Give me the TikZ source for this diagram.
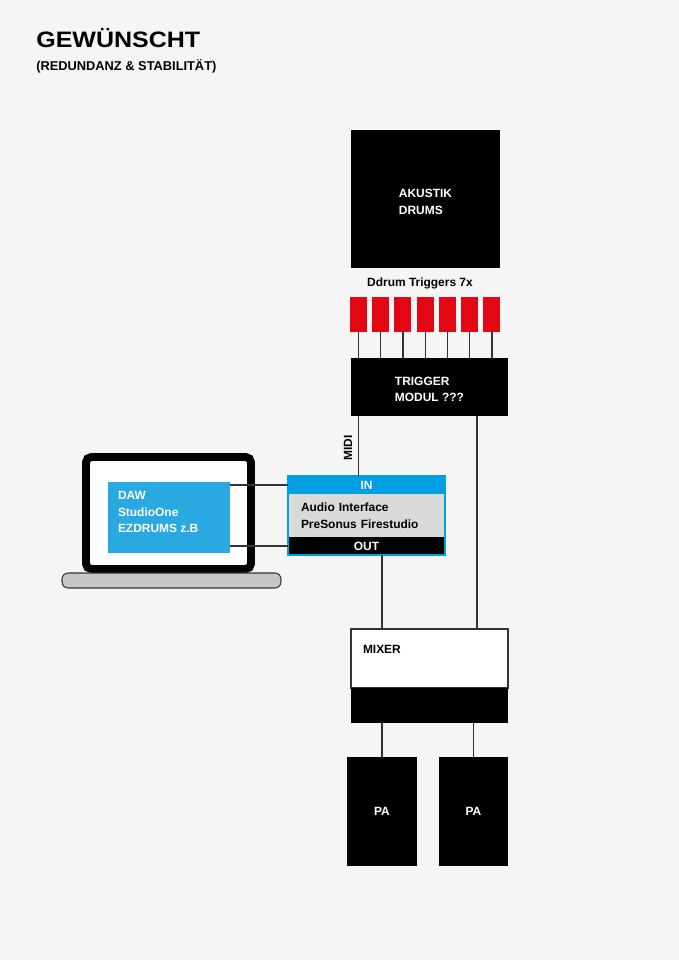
\documentclass[tikz,border=0pt]{standalone}
\usepackage{fontspec}
\setmainfont{Liberation Sans}
\newfontfamily\titlefont{Liberation Sans}[FakeStretch=1.12]
\usetikzlibrary{calc,positioning}
\definecolor{paper}{HTML}{F5F5F5}
\definecolor{trigred}{HTML}{E30613}
\definecolor{ifblue}{HTML}{009FE3}
\definecolor{dawblue}{HTML}{2AA8E0}
\definecolor{bodygrey}{HTML}{DADADA}
\definecolor{basegrey}{HTML}{C6C6C6}
\definecolor{wiregrey}{HTML}{333333}

\begin{document}
\begin{tikzpicture}[x=0.02cm, y=-0.02cm, node distance=0pt]
	\tikzstyle{box}=[inner sep=0pt, outer sep=0pt, font=\bfseries\fontsize{6.8}{9.6}\selectfont]
	\tikzstyle{blackbox}=[box, fill=black, text=white]
	\tikzstyle{trigger}=[box, fill=trigred, minimum width=0.34cm, minimum height=0.7cm]
	\tikzstyle{wire}=[draw=wiregrey, line width=0.6pt]

	\fill[paper] (0,0) rectangle (679,960);
	\useasboundingbox (0,0) rectangle (679,960);

	\node (title) [anchor=base west, inner sep=0pt, font=\titlefont\bfseries\fontsize{12.7}{14}\selectfont] at (36,48) {GEWÜNSCHT};
	\node (sub) [anchor=base west, inner sep=0pt, font=\bfseries\fontsize{7.3}{8}\selectfont] at (36,70) {(REDUNDANZ \& STABILITÄT)};

	\node (drums) [blackbox, minimum width=2.98cm, minimum height=2.76cm, align=left, text height=0.62cm] at (425.5,199) {AKUSTIK\\DRUMS};
	\node (ddrum) [box] at (420,283) {Ddrum Triggers 7x};

	\node (t1) [trigger] at (358.5,314.5) {};
	\node (t2) [trigger, right=0.105cm of t1] {};
	\node (t3) [trigger, right=0.105cm of t2] {};
	\node (t4) [trigger, right=0.105cm of t3] {};
	\node (t5) [trigger, right=0.105cm of t4] {};
	\node (t6) [trigger, right=0.105cm of t5] {};
	\node (t7) [trigger, right=0.105cm of t6] {};

	\node (tm) [blackbox, minimum width=3.14cm, minimum height=1.16cm, align=left, text height=0.6cm] at (429.5,387) {TRIGGER\\MODUL ???};

	\draw[wire] (t1.south) -- (t1 |- tm.north);
	\draw[wire] (t2.south) -- (t2 |- tm.north);
	\draw[wire] (t3.south) -- (t3 |- tm.north);
	\draw[wire] (t4.south) -- (t4 |- tm.north);
	\draw[wire] (t5.south) -- (t5 |- tm.north);
	\draw[wire] (t6.south) -- (t6 |- tm.north);
	\draw[wire] (t7.south) -- (t7 |- tm.north);

	% audio interface
	\node (in) [blackbox, fill=ifblue, minimum width=3.14cm, minimum height=0.36cm] at (366.5,485) {IN};
	\node (ai) [box, fill=bodygrey, below=of in, text width=2.62cm, inner xsep=0.26cm, minimum height=0.86cm, align=left] {Audio Interface\\PreSonus Firestudio};
	\node (out) [blackbox, below=of ai, minimum width=3.14cm, minimum height=0.36cm] {OUT};
	\draw[draw=ifblue, line width=0.6pt] (in.north west) rectangle (out.south east);

	\draw[wire] (t1 |- tm.south) -- (t1 |- in.north);
	\node (midi) [box, rotate=90] at (348,448) {MIDI};

	% laptop
	\node (screen) [draw=black, fill=white, line width=4.5pt, rounded corners=3pt, minimum width=3.3cm, minimum height=2.24cm, inner sep=0pt] at (168.5,513) {};
	\node (base) [draw=wiregrey, fill=basegrey, line width=0.6pt, rounded corners=3.5pt, minimum width=4.38cm, minimum height=0.3cm, inner sep=0pt] at (171.5,580.5) {};
	\node (daw) [box, fill=dawblue, minimum width=2.44cm, minimum height=1.42cm] at (169,517.5) {};
	\node (dawtxt) [box, text=white, align=left, anchor=north west] at (118,491) {DAW\\StudioOne\\EZDRUMS z.B};

	\draw[wire] (daw.east |- in.west) -- (in.west);
	\draw[wire] (daw.east |- out.west) -- (out.west);

	% mixer and PA
	\node (mixer) [box, draw=wiregrey, fill=white, line width=0.6pt, minimum width=3.14cm, minimum height=1.18cm] at (429.5,658.5) {};
	\node (mixtxt) [box, anchor=west] at (363,649) {MIXER};
	\node (mixout) [blackbox, below=of mixer, minimum width=3.14cm, minimum height=0.7cm] {};

	\node (pa1) [blackbox, minimum width=1.4cm, minimum height=2.18cm] at (382,811.5) {PA};
	\node (pa2) [blackbox, right=0.44cm of pa1, minimum width=1.38cm, minimum height=2.18cm] {PA};

	\draw[wire] (pa1 |- out.south) -- (pa1 |- mixer.north);
	\draw[wire] ($(tm.south east)+(-31,0)$) -- ($(mixer.north east)+(-31,0)$);
	\draw[wire] (pa1 |- mixout.south) -- (pa1.north);
	\draw[wire] (pa2 |- mixout.south) -- (pa2.north);
\end{tikzpicture}
\end{document}
